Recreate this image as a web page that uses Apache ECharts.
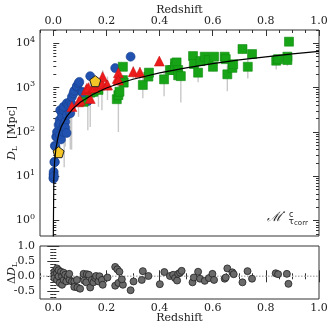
<!DOCTYPE html>
<html>
<head>
<meta charset="utf-8">
<script src="https://cdn.jsdelivr.net/npm/echarts@6/dist/echarts.min.js"></script>
<style>
html, body { margin: 0; padding: 0; background: #fff; }
#chart { width: 332px; height: 332px; }
</style>
</head>
<body>
<div id="chart"></div>
<script>
// blue circles
var blueZ = [0.001, 0.001, 0.0015, 0.001, 0.002, 0.004, 0.006, 0.006, 0.008, 0.011, 0.014, 0.015, 0.019, 0.020, 0.024, 0.024, 0.025, 0.029, 0.026, 0.033, 0.033, 0.039, 0.039, 0.039, 0.038, 0.041, 0.045, 0.045, 0.05, 0.051, 0.051, 0.057, 0.064, 0.064, 0.069, 0.070, 0.076, 0.079, 0.089, 0.089, 0.095, 0.098, 0.108, 0.111, 0.12, 0.13, 0.139, 0.233, 0.291];
var blueD = [11, 9.3, 12.6, 8.9, 10, 21, 21, 49, 47, 78, 100, 78, 100, 144, 187, 85, 155, 68, 310, 260, 220, 310, 370, 133, 100, 150, 170, 125, 95, 240, 445, 410, 265, 480, 420, 620, 740, 850, 1050, 1090, 1250, 1350, 810, 770, 620, 500, 1820, 2760, 5000];
var blueErr = [0, 0, 0, 0, 0, 0, 0, 0, 0, 0, 0, 0, 0, 0, 0, 0, 0, 0, 0, 0, 0, 0, 0, 0, 0, 134, 123, 0, 0, 0, 0, 0, 225, 0, 380, 0, 0, 0, 0, 0, 0, 0, 0, 0, 0, 390, 0, 0, 0];

// red triangles
var redZ = [0.070, 0.095, 0.101, 0.124, 0.126, 0.132, 0.139, 0.151, 0.155, 0.170, 0.176, 0.183, 0.186, 0.201, 0.204, 0.241, 0.245, 0.245, 0.301, 0.326, 0.399];
var redD = [375, 480, 520, 885, 960, 1000, 570, 1050, 1000, 1150, 1150, 1250, 1770, 1150, 1150, 1620, 2180, 1490, 2290, 2220, 3980];
var redErr = [0, 260, 0, 0, 0, 0, 0, 0, 0, 0, 0, 940, 700, 0, 625, 0, 1700, 0, 700, 700, 400];

// green squares
var greenZ = [0.114, 0.139, 0.145, 0.151, 0.170, 0.239, 0.245, 0.249, 0.262, 0.262, 0.265, 0.337, 0.358, 0.360, 0.417, 0.439, 0.449, 0.458, 0.458, 0.464, 0.470, 0.470, 0.480, 0.526, 0.529, 0.545, 0.554, 0.570, 0.585, 0.601, 0.605, 0.645, 0.649, 0.655, 0.674, 0.677, 0.712, 0.732, 0.748, 0.839, 0.846, 0.881, 0.881, 0.887];
var greenD = [480, 770, 810, 810, 890, 550, 680, 810, 1480, 2960, 1300, 1150, 1780, 2180, 1540, 2500, 2500, 3540, 2960, 3710, 2500, 1900, 1820, 5160, 3420, 2180, 3980, 5000, 4200, 2960, 5000, 5000, 4400, 2000, 2800, 3370, 7440, 2960, 5730, 4060, 4400, 5000, 4200, 10900];
var greenErr = [0, 640, 0, 0, 520, 0, 580, 0, 0, 600, 0, 575, 0, 600, 900, 0, 0, 500, 0, 0, 0, 0, 1360, 0, 0, 860, 0, 0, 0, 600, 0, 0, 0, 1170, 0, 0, 1500, 1340, 0, 1500, 0, 0, 1100, 0];

// yellow pentagons
var yellowZ = [0.020, 0.158];
var yellowD = [35, 1400];

// fitted curve
var fitZ = [0.0001, 0.002, 0.005, 0.01, 0.02, 0.03, 0.05, 0.075, 0.1, 0.15, 0.2, 0.25, 0.3, 0.4, 0.5, 0.6, 0.7, 0.8, 0.9, 1.0];
var fitD = [0.43, 8.6, 21.5, 43, 87, 131, 222, 340, 460, 710, 980, 1260, 1550, 2160, 2800, 3500, 4230, 4950, 5760, 6600];

// residuals
var resZ = [0.004, 0.004, 0.004, 0.014, 0.014, 0.014, 0.02, 0.02, 0.024, 0.029, 0.033, 0.033, 0.039, 0.039, 0.045, 0.049, 0.054, 0.061, 0.06, 0.07, 0.079, 0.079, 0.091, 0.101, 0.089, 0.114, 0.116, 0.126, 0.124, 0.134, 0.139, 0.145, 0.151, 0.158, 0.161, 0.17, 0.174, 0.183, 0.186, 0.204, 0.233, 0.241, 0.249, 0.233, 0.245, 0.262, 0.258, 0.291, 0.302, 0.333, 0.337, 0.358, 0.401, 0.418, 0.439, 0.451, 0.458, 0.466, 0.47, 0.477, 0.483, 0.524, 0.529, 0.545, 0.552, 0.57, 0.586, 0.599, 0.605, 0.645, 0.649, 0.655, 0.674, 0.679, 0.712, 0.731, 0.748, 0.837, 0.846, 0.879, 0.885];
var resV = [0.15, 0.045, -0.06, 0.26, 0.1, -0.12, 0.2, 0, -0.22, 0.15, 0, -0.28, 0.12, -0.12, 0.05, -0.17, 0, -0.12, 0.08, -0.17, -0.17, -0.35, -0.37, -0.41, -0.12, 0.08, -0.14, 0.07, -0.2, 0.05, -0.37, -0.12, -0.2, -0.06, 0.01, -0.17, 0, -0.12, -0.28, -0.04, 0.31, 0.23, 0.15, -0.31, -0.22, -0.28, -0.1, -0.46, -0.17, -0.12, 0.17, 0.01, -0.26, 0.14, 0.01, 0.05, -0.06, -0.14, 0.08, 0.12, 0.18, -0.2, -0.04, 0.15, -0.08, -0.15, -0.06, 0.08, -0.12, -0.08, -0.04, 0.26, 0.13, 0.07, -0.2, 0.17, -0.08, 0.1, 0.07, 0.08, -0.25];

// tick positions
var xMajor = [0, 0.2, 0.4, 0.6, 0.8, 1.0];
var yMajor = [1, 10, 100, 1000, 10000];
var rMajor = [-0.5, 0, 0.5, 1.0];

var xMinor = [];
for (var i = -1; i <= 20; i++) xMinor.push(Math.round(i * 5) / 100);
var yMinor = [];
for (var e = -1; e <= 4; e++) {
	for (var k = 2; k <= 9; k++) {
		var v = k * Math.pow(10, e);
		if (v >= 0.45 && v <= 20000) yMinor.push(v);
	}
}
var rMinor = [];
for (var j = -7; j <= 10; j++) rMinor.push(j / 10);

var FONT = 'DejaVu Serif';
var INK = '#222';
var tickStyle = { color: '#333', width: 1 };

function pairs(a, b) {
	var out = [];
	for (var i = 0; i < a.length; i++) out.push([a[i], b[i]]);
	return out;
}
function bars(z, d, err) {
	var out = [];
	for (var i = 0; i < z.length; i++) {
		if (err[i] > 0) out.push([z[i], Math.max(d[i] - err[i], 0.3), d[i] + err[i]]);
	}
	return out;
}

function xAxis(grid, pos, ticks, len, labels) {
	return {
		type: 'value', gridIndex: grid, position: pos, min: -0.05, max: 1.0,
		axisLine: { show: false }, splitLine: { show: false },
		axisTick: { inside: true, length: len, customValues: ticks, lineStyle: tickStyle },
		axisLabel: labels ? {
			customValues: ticks, margin: pos == 'top' ? 3 : 4,
			fontFamily: FONT, fontSize: 11, color: INK,
			formatter: function (v) { return v.toFixed(1); }
		} : { show: false }
	};
}
function yLog(pos, ticks, len, labels) {
	return {
		type: 'log', gridIndex: 0, position: pos, min: 0.45, max: 20000,
		axisLine: { show: false }, splitLine: { show: false },
		axisTick: { inside: true, length: len, customValues: ticks, lineStyle: tickStyle },
		axisLabel: labels ? {
			customValues: ticks, margin: 5,
			formatter: function (v) {
				return '{b|10}{s|' + Math.round(Math.log10(v)) + '}';
			},
			rich: {
				b: { fontFamily: FONT, fontSize: 11, color: INK },
				s: { fontFamily: FONT, fontSize: 8, color: INK, padding: [0, 0, 7, 0] }
			}
		} : { show: false }
	};
}
function yRes(pos, ticks, len, labels) {
	return {
		type: 'value', gridIndex: 1, position: pos, min: -0.75, max: 1.0,
		axisLine: { show: false }, splitLine: { show: false },
		axisTick: { inside: true, length: len, customValues: ticks, lineStyle: tickStyle },
		axisLabel: labels ? {
			customValues: ticks, margin: 5,
			fontFamily: FONT, fontSize: 11, color: INK,
			formatter: function (v) { return v.toFixed(1); }
		} : { show: false }
	};
}

function errorBar(params, api) {
	var a = api.coord([api.value(0), api.value(1)]);
	var b = api.coord([api.value(0), api.value(2)]);
	return {
		type: 'line',
		shape: { x1: a[0], y1: a[1], x2: b[0], y2: b[1] },
		style: { stroke: '#c8c8c8', lineWidth: 1.4 }
	};
}

var chart = echarts.init(document.getElementById('chart'));

var option = {
	animation: false,
	grid: [
		{ left: 40, top: 30, width: 279, height: 206, show: true, borderColor: '#333', borderWidth: 1 },
		{ left: 40, top: 246, width: 279, height: 53, show: true, borderColor: '#333', borderWidth: 1 }
	],
	xAxis: [
		xAxis(0, 'top', xMinor, 3, false),
		xAxis(0, 'top', xMajor, 6, true),
		xAxis(1, 'bottom', xMinor, 3, false),
		xAxis(1, 'bottom', xMajor, 6, true),
		xAxis(1, 'top', xMinor, 3, false),
		xAxis(1, 'top', xMajor, 6, false)
	],
	yAxis: [
		yLog('left', yMajor, 6, true),
		yLog('left', yMinor, 3, false),
		yLog('right', yMajor, 6, false),
		yLog('right', yMinor, 3, false),
		yRes('left', rMajor, 6, true),
		yRes('left', rMinor, 3, false),
		yRes('right', rMajor, 6, false),
		yRes('right', rMinor, 3, false)
	],
	series: [
		{ type: 'custom', xAxisIndex: 0, yAxisIndex: 0, renderItem: errorBar, clip: true, z: 1,
		  data: bars(blueZ, blueD, blueErr).concat(bars(redZ, redD, redErr), bars(greenZ, greenD, greenErr)) },
		{ type: 'scatter', xAxisIndex: 0, yAxisIndex: 0, symbol: 'circle', symbolSize: 9, z: 2,
		  itemStyle: { color: '#2152b0', borderColor: '#17408e', borderWidth: 0.6, opacity: 1 },
		  data: pairs(blueZ, blueD) },
		{ type: 'scatter', xAxisIndex: 0, yAxisIndex: 0, symbol: 'rect', symbolSize: 9, z: 3,
		  itemStyle: { color: '#17a517', borderColor: '#108c10', borderWidth: 0.6, opacity: 1 },
		  data: pairs(greenZ, greenD) },
		{ type: 'scatter', xAxisIndex: 0, yAxisIndex: 0, symbol: 'triangle', symbolSize: 10, z: 3,
		  itemStyle: { color: '#ec1c1c', borderColor: '#c81010', borderWidth: 0.5, opacity: 1 },
		  data: pairs(redZ, redD) },
		{ type: 'scatter', xAxisIndex: 0, yAxisIndex: 0, z: 4,
		  symbol: 'path://M0,-1L0.951,-0.309L0.588,0.809L-0.588,0.809L-0.951,-0.309Z', symbolSize: 11,
		  itemStyle: { color: '#f3c526', borderColor: '#222', borderWidth: 1, opacity: 1 },
		  data: pairs(yellowZ, yellowD) },
		{ type: 'line', xAxisIndex: 0, yAxisIndex: 0, showSymbol: false, z: 5, clip: true,
		  lineStyle: { color: '#000', width: 1.2 },
		  data: pairs(fitZ, fitD) },
		{ type: 'line', xAxisIndex: 2, yAxisIndex: 4, showSymbol: false, z: 1,
		  lineStyle: { color: '#b4b4b4', width: 1.4, type: [1.5, 1.5] },
		  data: [[-0.05, 0], [1.0, 0]] },
		{ type: 'scatter', xAxisIndex: 2, yAxisIndex: 4, symbol: 'circle', symbolSize: 7, z: 2,
		  itemStyle: { color: '#6a6a6a', borderColor: '#222', borderWidth: 0.8, opacity: 1 },
		  data: pairs(resZ, resV) }
	],
	graphic: [
		{ type: 'text', x: 179.5, y: 10, style: { text: 'Redshift', font: '11px ' + FONT, fill: INK, align: 'center', verticalAlign: 'middle' } },
		{ type: 'text', x: 179.5, y: 318, style: { text: 'Redshift', font: '11px ' + FONT, fill: INK, align: 'center', verticalAlign: 'middle' } },
		{ type: 'text', x: 12, y: 133, rotation: Math.PI / 2,
		  style: { text: '{i|D}{s|L}{n|  [Mpc]}', align: 'center', verticalAlign: 'middle', fill: INK,
		    rich: {
		      i: { fontFamily: FONT, fontStyle: 'italic', fontSize: 11, fill: INK },
		      s: { fontFamily: FONT, fontSize: 8, fill: INK, padding: [5, 0, 0, 0] },
		      n: { fontFamily: FONT, fontSize: 11, fill: INK }
		    } } },
		{ type: 'text', x: 12, y: 273, rotation: Math.PI / 2,
		  style: { text: '{n|Δ}{i|D}{s|L}', align: 'center', verticalAlign: 'middle', fill: INK,
		    rich: {
		      i: { fontFamily: FONT, fontStyle: 'italic', fontSize: 11, fill: INK },
		      s: { fontFamily: FONT, fontSize: 8, fill: INK, padding: [5, 0, 0, 0] },
		      n: { fontFamily: FONT, fontSize: 11, fill: INK }
		    } } },
		{ type: 'text', x: 267, y: 211, style: { text: 'ℳ̇', font: 'italic 13px ' + FONT, fill: INK } },
		{ type: 'text', x: 289, y: 211, style: { text: 'c', font: '8px DejaVu Sans', fill: INK } },
		{ type: 'text', x: 288.5, y: 217, style: { text: 'τ', font: '9px DejaVu Sans', fill: INK } },
		{ type: 'text', x: 294, y: 219.5, style: { text: 'corr', font: '7px DejaVu Sans', fill: INK } }
	]
};

chart.setOption(option);
</script>
</body>
</html>
